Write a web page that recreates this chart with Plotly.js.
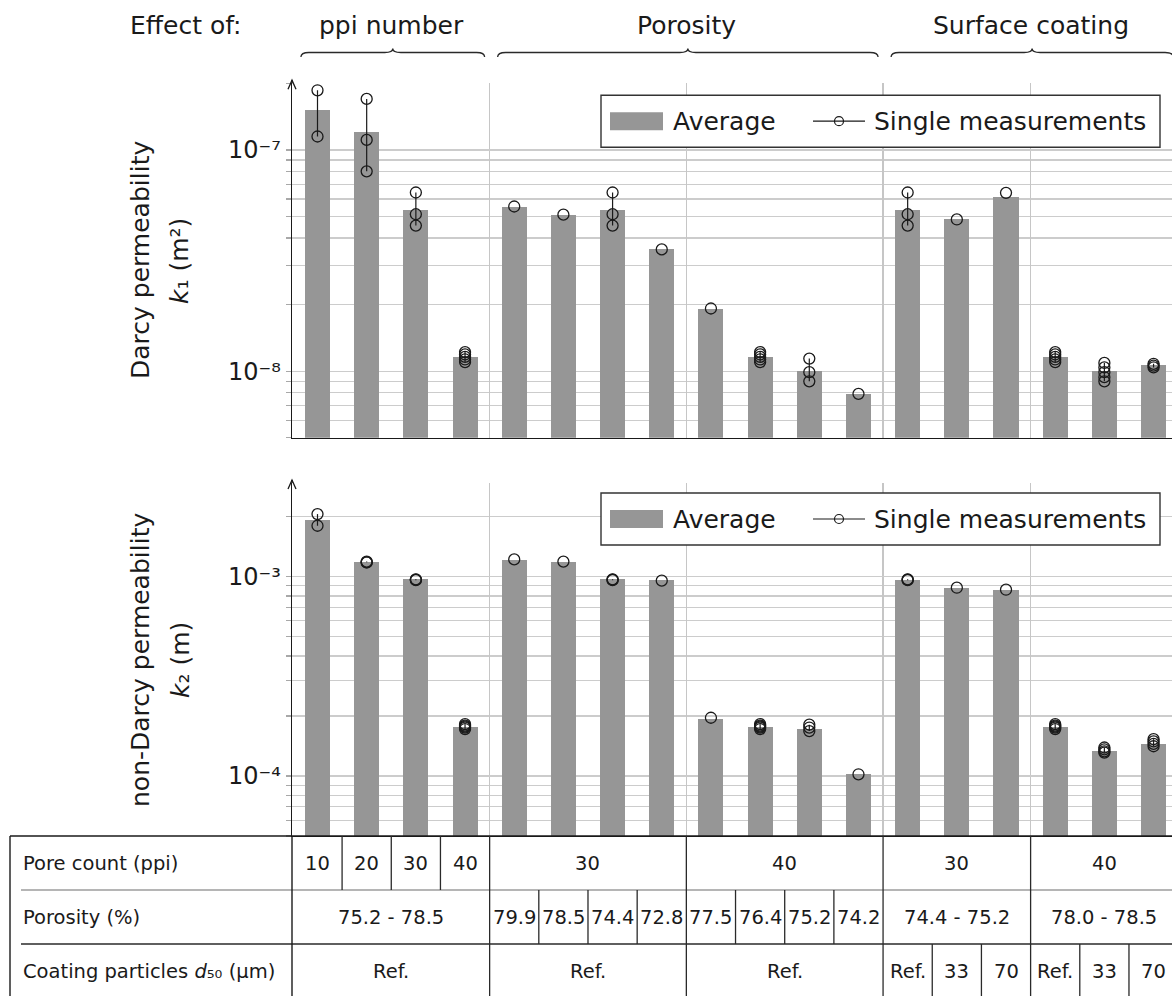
<!DOCTYPE html>
<html>
<head>
<meta charset="utf-8">
<script src="https://cdn.plot.ly/plotly-3.0.1.min.js"></script>
<style>html,body{margin:0;padding:0;background:#fff}#chart{width:1172px;height:996px}</style>
</head>
<body>
<div id="chart"></div>
<script>
// ---------------- data ----------------
const samples = ['10 ppi','20 ppi','30 ppi','40 ppi',
  '30 ppi, 79.9 %','30 ppi, 78.5 %','30 ppi, 74.4 %','30 ppi, 72.8 %',
  '40 ppi, 77.5 %','40 ppi, 76.4 %','40 ppi, 75.2 %','40 ppi, 74.2 %',
  '30 ppi, Ref.','30 ppi, 33 µm','30 ppi, 70 µm','40 ppi, Ref.','40 ppi, 33 µm','40 ppi, 70 µm'];

// Darcy permeability k1 (m^2)
const k1Average = [1.51e-7, 1.21e-7, 5.36e-8, 1.16e-8, 5.52e-8, 5.09e-8, 5.36e-8, 3.55e-8, 1.92e-8,
  1.16e-8, 1.00e-8, 7.9e-9, 5.36e-8, 4.85e-8, 6.15e-8, 1.16e-8, 1.00e-8, 1.065e-8];
const k1Singles = [
  [1.86e-7, 1.15e-7],
  [1.70e-7, 1.11e-7, 8.0e-8],
  [6.42e-8, 5.12e-8, 4.55e-8],
  [1.22e-8, 1.19e-8, 1.16e-8, 1.13e-8, 1.10e-8],
  [5.55e-8],
  [5.1e-8],
  [6.42e-8, 5.12e-8, 4.55e-8],
  [3.55e-8],
  [1.92e-8],
  [1.22e-8, 1.19e-8, 1.16e-8, 1.13e-8, 1.10e-8],
  [1.14e-8, 0.99e-8, 0.90e-8],
  [7.9e-9],
  [6.42e-8, 5.12e-8, 4.55e-8],
  [4.85e-8],
  [6.4e-8],
  [1.22e-8, 1.19e-8, 1.16e-8, 1.13e-8, 1.10e-8],
  [1.09e-8, 1.04e-8, 0.99e-8, 0.94e-8, 0.90e-8],
  [1.08e-8, 1.06e-8, 1.04e-8]
];

// non-Darcy permeability k2 (m)
const k2Average = [1.92e-3, 1.184e-3, 0.97e-3, 1.77e-4, 1.21e-3, 1.19e-3, 0.97e-3, 0.958e-3, 1.93e-4,
  1.77e-4, 1.72e-4, 1.02e-4, 0.962e-3, 0.88e-3, 0.857e-3, 1.77e-4, 1.34e-4, 1.45e-4];
const k2Singles = [
  [2.06e-3, 1.80e-3],
  [1.19e-3, 1.18e-3, 1.18e-3],
  [0.97e-3, 0.965e-3, 0.96e-3],
  [1.82e-4, 1.79e-4, 1.77e-4, 1.75e-4, 1.72e-4],
  [1.22e-3],
  [1.19e-3],
  [0.97e-3, 0.965e-3, 0.96e-3],
  [0.955e-3],
  [1.96e-4],
  [1.82e-4, 1.79e-4, 1.77e-4, 1.75e-4, 1.72e-4],
  [1.81e-4, 1.75e-4, 1.68e-4],
  [1.02e-4],
  [0.97e-3, 0.965e-3, 0.96e-3],
  [0.88e-3],
  [0.86e-3],
  [1.82e-4, 1.79e-4, 1.77e-4, 1.75e-4, 1.72e-4],
  [1.39e-4, 1.36e-4, 1.33e-4, 1.31e-4],
  [1.53e-4, 1.49e-4, 1.45e-4, 1.41e-4]
];

// tick values / labels
const k1TickVals = [1e-8, 1e-7];
const k1TickText = ['10⁻⁸', '10⁻⁷'];
const k1MinorVals = [5e-9,6e-9,7e-9,8e-9,9e-9,2e-8,3e-8,4e-8,5e-8,6e-8,7e-8,8e-8,9e-8,2e-7];
const k2TickVals = [1e-4, 1e-3];
const k2TickText = ['10⁻⁴', '10⁻³'];
const k2MinorVals = [5e-5,6e-5,7e-5,8e-5,9e-5,2e-4,3e-4,4e-4,5e-4,6e-4,7e-4,8e-4,9e-4,2e-3];
const groupBoundaries = [3.5, 7.5, 11.5, 14.5];

// header groups
const effectGroups = ['ppi number', 'Porosity', 'Surface coating'];
const effectFirst = [0, 4, 12];
const effectLast = [3, 11, 17];

// axis titles
const k1TitleLines = ['Darcy permeability', '<i>k</i>₁ (m²)'];
const k2TitleLines = ['non-Darcy permeability', '<i>k</i>₂ (m)'];

// table
const tableRowLabels = ['Pore count (ppi)', 'Porosity (%)', 'Coating particles <i>d</i>₅₀ (µm)'];
const poreCountCells = ['10','20','30','40','30','40','30','40'];
const poreCountSpans = [1,1,1,1,4,4,3,3];
const porosityCells = ['75.2 - 78.5','79.9','78.5','74.4','72.8','77.5','76.4','75.2','74.2','74.4 - 75.2','78.0 - 78.5'];
const porositySpans = [4,1,1,1,1,1,1,1,1,3,3];
const coatingCells = ['Ref.','Ref.','Ref.','Ref.','33','70','Ref.','33','70'];
const coatingSpans = [4,4,4,1,1,1,1,1,1];

// ---------------- geometry ----------------
const W = 1172, H = 996;
const PX = p => p / W;
const PY = p => 1 - p / H;
const X_RANGE = [-0.5185, 17.375];
const PLOT_L = 292, PLOT_R = 1172;
const xpx = v => PLOT_L + (v - X_RANGE[0]) / (X_RANGE[1] - X_RANGE[0]) * (PLOT_R - PLOT_L);
const TOP1 = 83.2, BOT1 = 437.8, TOP2 = 483, BOT2 = 836;
const TABLE_ROWS = [836, 890, 944, 998];

const FONT = 'DejaVu Sans, sans-serif';
const INK = '#1a1a1a';
const BAR = '#969696';
const GRID = '#cccccc';

const xs = samples.map((_, i) => i);

function singlesTrace(list, xa, ya) {
  const x = [], y = [];
  list.forEach((vals, i) => {
    vals.forEach(v => { x.push(i); y.push(v); });
    x.push(null); y.push(null);
  });
  return {type:'scatter', mode:'lines+markers', x, y, xaxis:xa, yaxis:ya, connectgaps:false,
    line:{color:INK, width:1.2},
    marker:{symbol:'circle-open', size:11, color:INK, line:{width:1.3}},
    showlegend:false, hoverinfo:'y'};
}

const traces = [
  {type:'bar', x:xs, y:k1Average, xaxis:'x', yaxis:'y', width:0.51,
   marker:{color:BAR, line:{width:0}}, showlegend:false, hovertext:samples, hoverinfo:'text+y'},
  singlesTrace(k1Singles, 'x', 'y'),
  {type:'bar', x:xs, y:k2Average, xaxis:'x2', yaxis:'y2', width:0.51,
   marker:{color:BAR, line:{width:0}}, showlegend:false, hovertext:samples, hoverinfo:'text+y'},
  singlesTrace(k2Singles, 'x2', 'y2')
];

const xAxisBase = {
  domain:[PX(PLOT_L), 1], range:X_RANGE, tickmode:'array', tickvals:groupBoundaries,
  showticklabels:false, ticks:'', showgrid:true, gridcolor:'#c6c6c6', gridwidth:1.2,
  showline:true, linecolor:INK, linewidth:1.4, zeroline:false, fixedrange:true
};
const minorBase = {tickmode:'array', showgrid:true, gridcolor:GRID, gridwidth:1.2,
  ticks:'outside', ticklen:5, tickcolor:'#a8a8a8', tickwidth:1.2};
const yAxisBase = {
  type:'log', tickmode:'array', showgrid:true, gridcolor:GRID, gridwidth:1.2,
  showline:true, linecolor:INK, linewidth:1.4, ticks:'outside', ticklen:5, tickcolor:'#a8a8a8',
  tickwidth:1.2, tickfont:{family:FONT, size:24, color:INK}, zeroline:false, fixedrange:true
};

const layout = {
  width:W, height:H, margin:{l:0, r:0, t:0, b:0},
  paper_bgcolor:'#fff', plot_bgcolor:'#fff', showlegend:false, bargap:0,
  xaxis:Object.assign({}, xAxisBase, {anchor:'y'}),
  yaxis:Object.assign({}, yAxisBase, {anchor:'x', domain:[PY(BOT1), PY(TOP1)],
    range:[Math.log10(5e-9), Math.log10(2e-7) + 0.0005], tickvals:k1TickVals, ticktext:k1TickText,
    minor:Object.assign({}, minorBase, {tickvals:k1MinorVals})}),
  xaxis2:Object.assign({}, xAxisBase, {anchor:'y2'}),
  yaxis2:Object.assign({}, yAxisBase, {anchor:'x2', domain:[PY(BOT2), PY(TOP2)],
    range:[Math.log10(5e-5), Math.log10(2.95e-3)], tickvals:k2TickVals, ticktext:k2TickText,
    minor:Object.assign({}, minorBase, {tickvals:k2MinorVals})}),
  shapes:[], annotations:[]
};

const S = layout.shapes, A = layout.annotations;
function line(x0, y0, x1, y1, color, width) {
  S.push({type:'line', xref:'paper', yref:'paper', x0:PX(x0), y0:PY(y0), x1:PX(x1), y1:PY(y1),
    line:{color, width}, layer:'above'});
}
function ann(text, x, y, size, opts) {
  A.push(Object.assign({text, x:PX(x), y:PY(y), xref:'paper', yref:'paper', showarrow:false,
    font:{family:FONT, size, color:INK}, xanchor:'center', yanchor:'middle'}, opts || {}));
}
const pt = (x, y) => PX(x) + ',' + PY(y);

// axis arrows
[TOP1, TOP2].forEach(t => {
  line(PLOT_L, t, PLOT_L, t - 3, INK, 1.4);
  S.push({type:'path', xref:'paper', yref:'paper', layer:'above',
    path:'M' + pt(PLOT_L - 4, t + 6) + ' L' + pt(PLOT_L, t - 3) + ' L' + pt(PLOT_L + 4, t + 6),
    line:{color:INK, width:1.3}});
});

// header
ann('Effect of:', 186, 26, 25);
effectGroups.forEach((g, k) => {
  const l = Math.max(xpx(effectFirst[k] - 0.5), PLOT_L) + 8;
  const r = xpx(effectLast[k] + 0.5) - 5;
  const m = (l + r) / 2, d = 8, yE = 57, yL = 52.5, yC = 48.5;
  S.push({type:'path', xref:'paper', yref:'paper', layer:'above', line:{color:'#2a2a2a', width:1.3},
    path:'M' + pt(l, yE) + ' Q' + pt(l, yL) + ' ' + pt(l + d, yL) + ' L' + pt(m - d, yL) +
         ' Q' + pt(m, yL) + ' ' + pt(m, yC) + ' Q' + pt(m, yL) + ' ' + pt(m + d, yL) +
         ' L' + pt(r - d, yL) + ' Q' + pt(r, yL) + ' ' + pt(r, yE)});
  ann(g, xpx((effectFirst[k] + effectLast[k]) / 2), 26, 25);
});

// legends
[TOP1 + 12, TOP2 + 10].forEach(bt => {
  const bl = 601, br = 1160, bb = bt + 52, cy = bt + 26;
  S.push({type:'rect', xref:'paper', yref:'paper', layer:'above', x0:PX(bl), x1:PX(br), y0:PY(bb), y1:PY(bt),
    fillcolor:'#ffffff', line:{color:'#333', width:1.4}});
  S.push({type:'rect', xref:'paper', yref:'paper', layer:'above', x0:PX(610), x1:PX(663), y0:PY(cy + 9), y1:PY(cy - 9),
    fillcolor:BAR, line:{width:0}});
  ann('Average', 671, cy, 25, {xanchor:'left'});
  line(813, cy, 865, cy, INK, 1.2);
  S.push({type:'circle', xref:'paper', yref:'paper', layer:'above', x0:PX(834.5), x1:PX(843.5),
    y0:PY(cy + 4.5), y1:PY(cy - 4.5), line:{color:INK, width:1.2}});
  ann('Single measurements', 872, cy, 25, {xanchor:'left'});
});

// y-axis titles
ann(k1TitleLines[0], 140, 260, 25, {textangle:-90});
ann(k1TitleLines[1], 180, 261, 25, {textangle:-90});
ann(k2TitleLines[0], 140, 660, 25, {textangle:-90});
ann(k2TitleLines[1], 180, 660, 25, {textangle:-90});

// table
line(10, TABLE_ROWS[0], W, TABLE_ROWS[0], INK, 1.4);
line(21, TABLE_ROWS[1], W, TABLE_ROWS[1], '#9c9c9c', 1.3);
line(21, TABLE_ROWS[2], W, TABLE_ROWS[2], '#2a2a2a', 1.4);
line(10, TABLE_ROWS[0], 10, H, INK, 1.4);
line(PLOT_L, TABLE_ROWS[0], PLOT_L, H, INK, 1.4);
const rows = [[poreCountCells, poreCountSpans], [porosityCells, porositySpans], [coatingCells, coatingSpans]];
rows.forEach(([cells, spans], r) => {
  const top = TABLE_ROWS[r], bot = TABLE_ROWS[r + 1], cy = (top + bot) / 2;
  ann(tableRowLabels[r], 21, cy, 19.5, {xanchor:'left'});
  let start = 0;
  cells.forEach((c, k) => {
    if (k > 0) line(xpx(start - 0.5), top, xpx(start - 0.5), bot, '#2a2a2a', 1.3);
    ann(c, xpx(start + (spans[k] - 1) / 2), cy, 19.5);
    start += spans[k];
  });
});

Plotly.newPlot('chart', traces, layout, {staticPlot:true});
</script>
</body>
</html>
